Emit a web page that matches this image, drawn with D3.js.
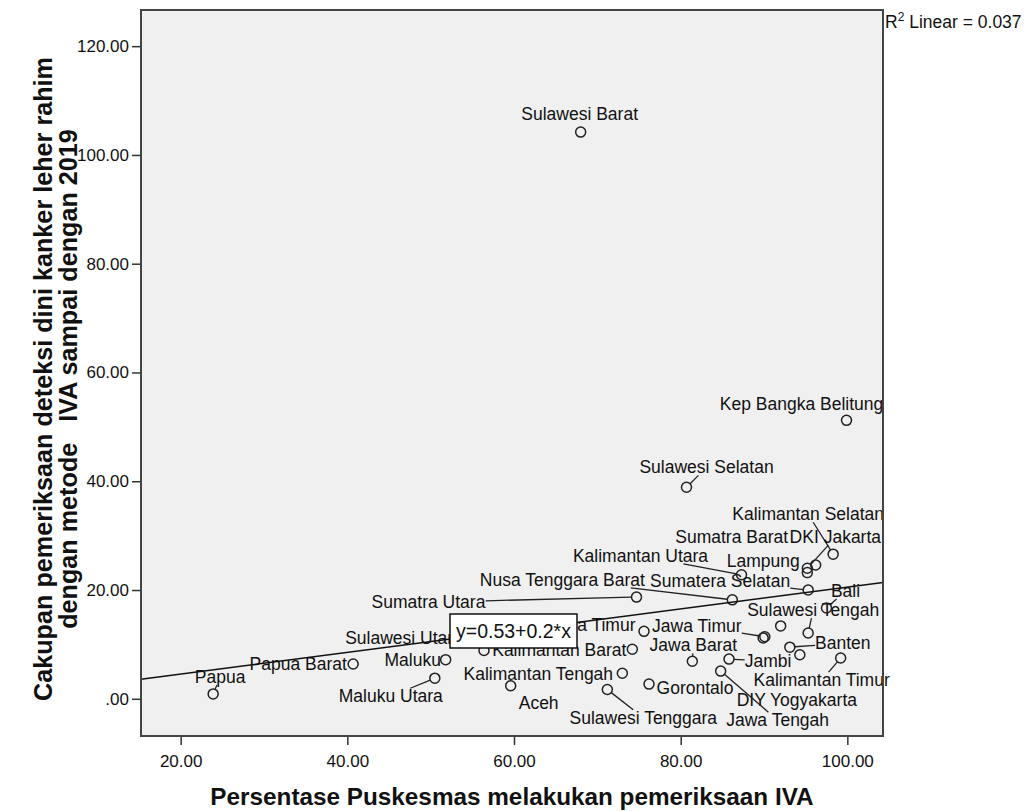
<!DOCTYPE html>
<html>
<head>
<meta charset="utf-8">
<script src="https://cdn.jsdelivr.net/npm/d3@7"></script>
<style>
body { margin: 0; background: #fff; }
text { font-family: "Liberation Sans", Arial, sans-serif; }
</style>
</head>
<body>
<div id="chart"></div>
<script>
// data
var provinces = ["Sulawesi Barat", "Kep Bangka Belitung", "Sulawesi Selatan", "Kalimantan Selatan", "DKI Jakarta",
	"Sumatra Barat", "Lampung", "Kalimantan Utara", "Sumatera Selatan", "Nusa Tenggara Barat", "Sumatra Utara",
	"Bali", "Sulawesi Tengah", "Nusa Tenggara Timur", "Jawa Timur", "Jawa Barat", "Banten", "Jambi",
	"Kalimantan Timur", "DIY Yogyakarta", "Jawa Tengah", "Gorontalo", "Kalimantan Tengah", "Sulawesi Tenggara",
	"Kalimantan Barat", "Sulawesi Utara", "Maluku", "Maluku Utara", "Aceh", "Papua Barat", "Papua", "", ""];
var pctPuskesmas = [68.0, 99.9, 80.7, 98.3, 95.2, 96.2, 95.2, 87.3, 95.3, 86.2, 74.7,
	97.5, 95.3, 75.6, 90.1, 81.4, 93.1, 85.8, 99.2, 94.3, 84.8, 76.2, 73.0, 71.2,
	74.2, 56.4, 51.8, 50.5, 59.6, 40.7, 23.9, 89.9, 92.0];
var cakupan = [104.2, 51.2, 38.9, 26.6, 24.0, 24.6, 23.2, 22.8, 20.0, 18.2, 18.7,
	16.7, 12.1, 12.4, 11.4, 6.9, 9.5, 7.3, 7.5, 8.1, 5.1, 2.7, 4.7, 1.7,
	9.1, 8.9, 7.2, 3.8, 2.4, 6.4, 0.9, 11.2, 13.4];
var xTicks = [20, 40, 60, 80, 100];
var yTicks = [0, 20, 40, 60, 80, 100, 120];
var fitA = 0.53, fitB = 0.2, r2 = 0.037;

// label offsets from the point (px) and whether a leader line is drawn
var labelPos = {
	"Sulawesi Barat": [-1, -18, 0], "Kep Bangka Belitung": [-45, -16, 0], "Sulawesi Selatan": [20, -20, 1],
	"Kalimantan Selatan": [-25, -40, 1], "DKI Jakarta": [28, -31, 1], "Sumatra Barat": [-84, -28, 0],
	"Lampung": [-44, -12, 0], "Kalimantan Utara": [-101, -19, 1], "Sumatera Selatan": [-88, -9, 1],
	"Nusa Tenggara Barat": [-170, -20, 1], "Sumatra Utara": [-208, 5, 1], "Bali": [19, -17, 1],
	"Sulawesi Tengah": [5, -23, 1], "Nusa Tenggara Timur": [-92, -6, 0], "Jawa Timur": [-68, -11, 1],
	"Jawa Barat": [1, -16, 1], "Banten": [53, -4, 1], "Jambi": [39, 2, 1], "Kalimantan Timur": [-19, 22, 1],
	"DIY Yogyakarta": [-3, 45, 0], "Jawa Tengah": [57, 49, 1], "Gorontalo": [46, 4, 0],
	"Kalimantan Tengah": [-84, 1, 0], "Sulawesi Tenggara": [36, 28, 1], "Kalimantan Barat": [-73, 1, 0],
	"Sulawesi Utara": [-80, -13, 0], "Maluku": [-33, 0, 0], "Maluku Utara": [-44, 18, 1], "Aceh": [28, 17, 0],
	"Papua Barat": [-55, 0, 0], "Papua": [7, -17, 1]
};

var width = 1030, height = 811,
	plotL = 141, plotR = 883, plotT = 10, plotB = 736;

var svg = d3.select("#chart").append("svg").attr("width", width).attr("height", height);

var x = d3.scaleLinear().domain([15.24, 104.28]).range([plotL, plotR]);
var y = d3.scaleLinear().domain([-6.84, 126.65]).range([plotB, plotT]);

var points = provinces.map(function(p, i){ return {name: p, x: pctPuskesmas[i], y: cakupan[i]}; });

svg.append("rect").attr("x", plotL).attr("y", plotT).attr("width", plotR - plotL).attr("height", plotB - plotT)
	.attr("fill", "#f0f0f0");

// axes
svg.append("g").attr("transform", "translate(0," + plotB + ")")
	.call(d3.axisBottom(x).tickValues(xTicks).tickSize(9).tickPadding(10).tickFormat(d3.format(".2f")));
svg.append("g").attr("transform", "translate(" + plotL + ",0)")
	.call(d3.axisLeft(y).tickValues(yTicks).tickSize(9).tickPadding(3)
		.tickFormat(function(d){ return d == 0 ? ".00" : d3.format(".2f")(d); }));
svg.selectAll(".domain").remove();
svg.selectAll(".tick line").attr("stroke", "#333").attr("stroke-width", 1.5);
svg.selectAll(".tick text").attr("font-size", "17px").attr("fill", "#111")
	.attr("font-family", "'Liberation Sans', Arial, sans-serif");

// labels, leader lines aim at the label centre and stop at its box
var labels = svg.append("g");
points.forEach(function(d){
	if (!d.name) return;
	var o = labelPos[d.name];
	var px = x(d.x), py = y(d.y);
	var t = labels.append("text").attr("x", px + o[0]).attr("y", py + o[1]).attr("dy", "0.35em")
		.attr("text-anchor", "middle").attr("font-size", "17.5px").attr("fill", "#111").text(d.name);
	if (o[2]) {
		var b = t.node().getBBox();
		var cx = b.x + b.width / 2, cy = b.y + b.height / 2;
		var dx = cx - px, dy = cy - py;
		var s = Math.max(Math.abs(dx) / (b.width / 2), Math.abs(dy) / (b.height / 2 - 2));
		var ex = cx - dx / s, ey = cy - dy / s;
		var lx = ex - px, ly = ey - py, len = Math.sqrt(lx * lx + ly * ly);
		if (len > 6) {
			labels.append("line").attr("x1", px + lx / len * 5).attr("y1", py + ly / len * 5)
				.attr("x2", ex).attr("y2", ey).attr("stroke", "#222").attr("stroke-width", 1.3);
		}
	}
});

// points
svg.append("g").selectAll("circle").data(points).enter().append("circle")
	.attr("cx", function(d){ return x(d.x); })
	.attr("cy", function(d){ return y(d.y); })
	.attr("r", 5)
	.attr("fill", "none").attr("stroke", "#222").attr("stroke-width", 1.5);

// fit line
var x0 = x.domain()[0], x1 = x.domain()[1];
svg.append("line").attr("x1", x(x0)).attr("y1", y(fitA + fitB * x0))
	.attr("x2", x(x1)).attr("y2", y(fitA + fitB * x1))
	.attr("stroke", "#111").attr("stroke-width", 1.5);

// equation box
var eq = svg.append("g");
eq.append("rect").attr("x", 450).attr("y", 614).attr("width", 127).attr("height", 34)
	.attr("fill", "#fff").attr("stroke", "#111").attr("stroke-width", 1.5);
eq.append("text").attr("x", 513.5).attr("y", 631).attr("dy", "0.35em").attr("text-anchor", "middle")
	.attr("font-size", "19.5px").attr("fill", "#111").text("y=" + fitA + "+" + fitB + "*x");

// frame
svg.append("rect").attr("x", plotL).attr("y", plotT).attr("width", plotR - plotL).attr("height", plotB - plotT)
	.attr("fill", "none").attr("stroke", "#444").attr("stroke-width", 2);

// R2 note
var r2t = svg.append("text").attr("x", 885).attr("y", 28).attr("font-size", "17.5px").attr("fill", "#111");
r2t.append("tspan").text("R");
r2t.append("tspan").attr("dy", -7).attr("font-size", "12px").text("2");
r2t.append("tspan").attr("dy", 7).text(" Linear = " + r2);

// axis titles
svg.append("text").attr("x", (plotL + plotR) / 2).attr("y", 805).attr("text-anchor", "middle")
	.attr("font-size", "24.3px").attr("font-weight", "bold").attr("fill", "#111")
	.text("Persentase Puskesmas melakukan pemeriksaan IVA");
var yt = svg.append("text").attr("transform", "translate(52,379) rotate(-90)").attr("text-anchor", "middle")
	.attr("font-size", "25.2px").attr("font-weight", "bold").attr("fill", "#111");
yt.append("tspan").attr("x", 0).attr("y", 0).text("Cakupan pemeriksaan deteksi dini kanker leher rahim");
yt.append("tspan").attr("x", 0).attr("y", 25).style("white-space", "pre")
	.text("dengan metode   IVA sampai dengan 2019");
</script>
</body>
</html>
